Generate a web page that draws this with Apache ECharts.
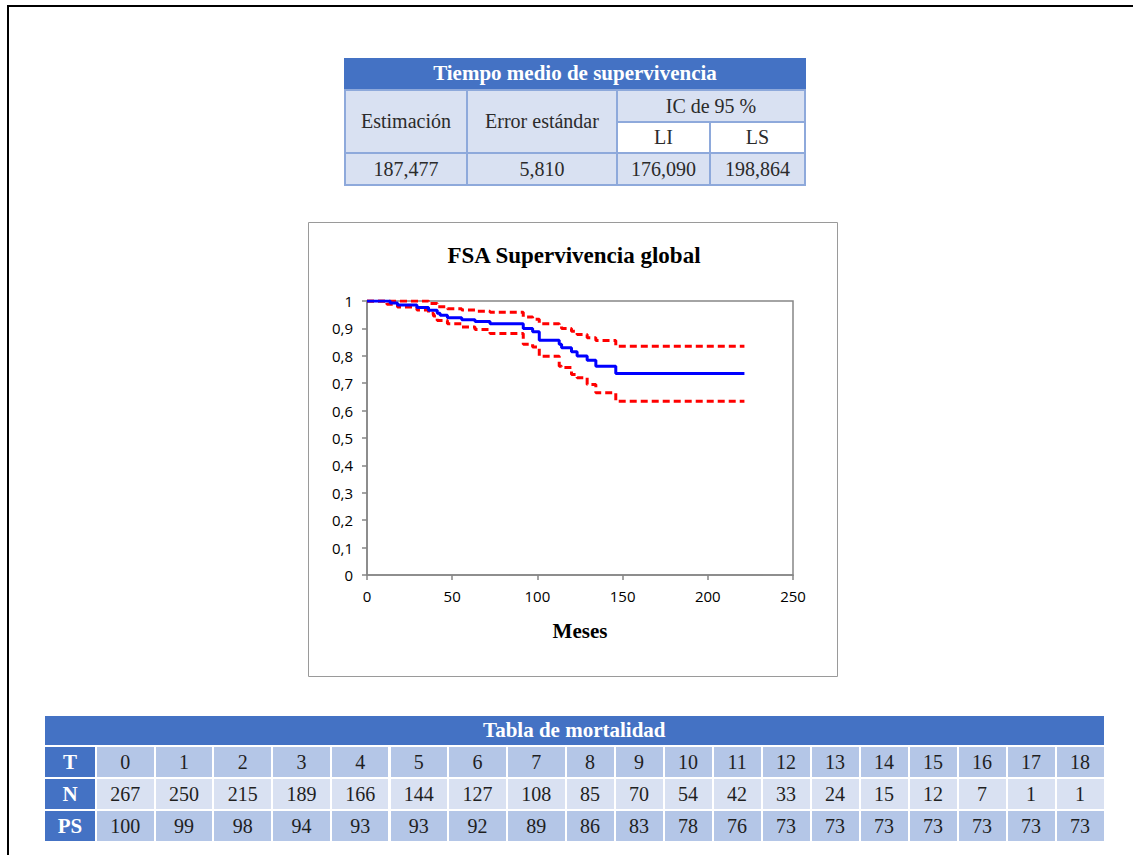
<!DOCTYPE html>
<html>
<head>
<meta charset="utf-8">
<script src="https://cdn.jsdelivr.net/npm/echarts@6/dist/echarts.min.js"></script>
<style>
  html, body { margin: 0; padding: 0; background: #fff; }
  body { width: 1133px; height: 855px; position: relative; overflow: hidden; }
  #chart { position: absolute; left: 0; top: 0; width: 1133px; height: 855px; }
  #frame { position: absolute; left: 7px; top: 5px; right: -10px; bottom: -10px;
           border-left: 2px solid #000; border-top: 2px solid #000; }
  .cell { position: absolute; box-sizing: border-box; display: flex; align-items: center;
          justify-content: center; font-family: "Liberation Serif", "DejaVu Serif", serif;
          white-space: nowrap; }
  .blk { position: absolute; }
</style>
</head>
<body>
<div id="chart"></div>
<div id="frame"></div>
<div id="tables"></div>
<script>
// Kaplan-Meier estimate (months) with 95% confidence band
const times    = [0, 11.7, 13.6, 17.9, 29.3, 36.1, 39.0, 41.2, 42.9, 47.2, 55.6, 63.4, 72.2, 91.7, 97.2, 101.1, 112.8, 114.2, 120.0, 123.3, 129.2, 134.3, 146.0, 221.5];
const survival = [1, 1, 0.993, 0.985, 0.976, 0.966, 0.966, 0.955, 0.948, 0.939, 0.932, 0.925, 0.917, 0.900, 0.888, 0.857, 0.842, 0.829, 0.815, 0.799, 0.784, 0.762, 0.735, 0.735];
const upperCI  = [1, 1, 1, 1, 1, 0.991, 0.991, 0.979, 0.979, 0.972, 0.967, 0.963, 0.959, 0.942, 0.933, 0.917, 0.909, 0.900, 0.890, 0.878, 0.866, 0.856, 0.835, 0.835];
const lowerCI  = [1, 0.988, 0.988, 0.978, 0.967, 0.955, 0.945, 0.929, 0.929, 0.917, 0.905, 0.896, 0.881, 0.842, 0.832, 0.798, 0.762, 0.757, 0.732, 0.720, 0.695, 0.665, 0.634, 0.634];

// Mean survival time summary
const meanTitle = 'Tiempo medio de supervivencia';
const meanHeads = ['Estimación', 'Error estándar', 'IC de 95 %'];
const ciHeads   = ['LI', 'LS'];
const meanVals  = ['187,477', '5,810', '176,090', '198,864'];

// Life table
const lifeTitle = 'Tabla de mortalidad';
const rowLabels = ['T', 'N', 'PS'];
const periods   = ['0','1','2','3','4','5','6','7','8','9','10','11','12','13','14','15','16','17','18'];
const atRisk    = ['267','250','215','189','166','144','127','108','85','70','54','42','33','24','15','12','7','1','1'];
const survPct   = ['100','99','98','94','93','93','92','89','86','83','78','76','73','73','73','73','73','73','73'];

const serif = '"Liberation Serif", "DejaVu Serif", serif';
const sans = '"Open Sans", "Noto Sans", sans-serif';

const host = document.getElementById('tables');
function box(x0, y0, x1, y1, bg) {
  const d = document.createElement('div');
  d.className = 'blk';
  Object.assign(d.style, { left: x0 + 'px', top: y0 + 'px', width: (x1 - x0) + 'px',
    height: (y1 - y0) + 'px', background: bg });
  host.appendChild(d);
  return d;
}
function cell(x0, y0, x1, y1, text, bg, color, bold, size) {
  const d = document.createElement('div');
  d.className = 'cell';
  Object.assign(d.style, { left: x0 + 'px', top: y0 + 'px', width: (x1 - x0) + 'px',
    height: (y1 - y0) + 'px', background: bg, color: color,
    fontWeight: bold ? 'bold' : 'normal', fontSize: size + 'px' });
  d.textContent = text;
  host.appendChild(d);
}

// --- summary table ---
(function () {
  const xs = [345, 467, 617, 710, 805];
  const ys = [90, 122, 153, 185];
  const line = '#8EA9DB', light = '#D9E1F2', blue = '#4472C4', ink = '#2b2b2b';
  const fs = 20, hs = 21;
  box(xs[0] - 1, ys[0] - 1, xs[4] + 1, ys[3] + 1, line);
  cell(xs[0] - 1, 58, xs[4] + 1, ys[0] - 1, meanTitle, blue, '#fff', true, hs);
  cell(xs[0] + 1, ys[0] + 1, xs[1] - 1, ys[2] - 1, meanHeads[0], light, ink, false, fs);
  cell(xs[1] + 1, ys[0] + 1, xs[2] - 1, ys[2] - 1, meanHeads[1], light, ink, false, fs);
  cell(xs[2] + 1, ys[0] + 1, xs[4] - 1, ys[1] - 1, meanHeads[2], light, ink, false, fs);
  cell(xs[2] + 1, ys[1] + 1, xs[3] - 1, ys[2] - 1, ciHeads[0], '#fff', ink, false, fs);
  cell(xs[3] + 1, ys[1] + 1, xs[4] - 1, ys[2] - 1, ciHeads[1], '#fff', ink, false, fs);
  meanVals.forEach((v, i) => cell(xs[i] + 1, ys[2] + 1, xs[i + 1] - 1, ys[3] - 1, v, light, ink, false, fs));
})();

// --- life table ---
(function () {
  const blue = '#4472C4', mid = '#B4C6E7', light = '#D9E1F2', ink = '#1f1f1f';
  const fs = 20, hs = 21;
  const edges = [44, 96];
  for (let i = 0; i < periods.length; i++) edges.push(edges[edges.length - 1] + (i < 8 ? 58.7 : 49));
  const rows = [[747, 777], [779, 809], [811, 841]];
  cell(45, 716, edges[edges.length - 1] - 1, 745, lifeTitle, blue, '#fff', true, hs);
  const data = [periods, atRisk, survPct];
  const fills = [mid, light, mid];
  rows.forEach((r, ri) => {
    cell(45, r[0], edges[1] - 1, r[1], rowLabels[ri], blue, '#fff', true, hs);
    data[ri].forEach((v, ci) => cell(edges[ci + 1] + 1, r[0], edges[ci + 2] - 1, r[1], v, fills[ri], ink, false, fs));
  });
})();

// --- survival chart ---
const pairs = arr => times.map((t, i) => [t, arr[i]]);
const chart = echarts.init(document.getElementById('chart'), null, { renderer: 'svg' });
const axisGray = '#868686';
chart.setOption({
  animation: false,
  backgroundColor: 'transparent',
  grid: { left: 367, top: 301, width: 426, height: 274, show: true,
          borderColor: axisGray, borderWidth: 1.5, backgroundColor: '#fff' },
  graphic: [
    { type: 'rect', z: -10, shape: { x: 308.5, y: 222.5, width: 529, height: 454 },
      style: { fill: '#fff', stroke: '#9a9a9a', lineWidth: 1 } },
    { type: 'text', x: 574, y: 255, z: 10,
      style: { text: 'FSA Supervivencia global', font: 'bold 23px ' + serif,
               fill: '#000', textAlign: 'center', textVerticalAlign: 'middle' } }
  ],
  xAxis: {
    type: 'value', min: 0, max: 250, interval: 50,
    name: 'Meses', nameLocation: 'middle', nameGap: 45,
    nameTextStyle: { fontFamily: serif, fontWeight: 'bold', fontSize: 21, color: '#000' },
    axisLine: { show: true, lineStyle: { color: axisGray, width: 1.5 } },
    axisTick: { show: true, inside: false, length: 5, lineStyle: { color: axisGray, width: 1.5 } },
    axisLabel: { fontFamily: sans, fontSize: 15, color: '#000', margin: 13 },
    splitLine: { show: false }
  },
  yAxis: {
    type: 'value', min: 0, max: 1, interval: 0.1,
    axisLine: { show: true, lineStyle: { color: axisGray, width: 1.5 } },
    axisTick: { show: true, inside: false, length: 5, lineStyle: { color: axisGray, width: 1.5 } },
    axisLabel: { fontFamily: sans, fontSize: 15, color: '#000', margin: 14,
                 formatter: v => String(Math.round(v * 10) / 10).replace('.', ',') },
    splitLine: { show: false }
  },
  series: [
    { name: 'LS', type: 'line', step: 'end', symbol: 'none', data: pairs(upperCI),
      lineStyle: { color: '#FF0000', width: 3, type: [7, 4] } },
    { name: 'LI', type: 'line', step: 'end', symbol: 'none', data: pairs(lowerCI),
      lineStyle: { color: '#FF0000', width: 3, type: [7, 4] } },
    { name: 'S(t)', type: 'line', step: 'end', symbol: 'none', data: pairs(survival),
      lineStyle: { color: '#0000FF', width: 3 } }
  ]
});
</script>
</body>
</html>
